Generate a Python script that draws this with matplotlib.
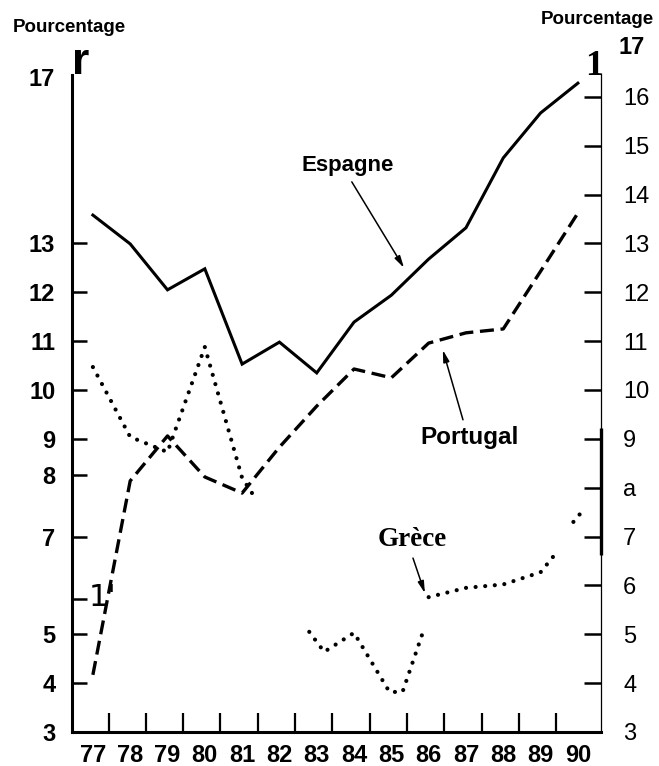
import numpy as np
import matplotlib
matplotlib.use("Agg")
import matplotlib.pyplot as plt

# --- data -------------------------------------------------------------------
years = [77, 78, 79, 80, 81, 82, 83, 84, 85, 86, 87, 88, 89, 90]
year_labels = [str(y) for y in years]

espagne = [13.58, 12.99, 12.05, 12.48, 10.53, 10.98, 10.35,
           11.39, 11.94, 12.68, 13.32, 14.75, 15.67, 16.28]
portugal = [4.17, 8.14, 9.06, 8.22, 7.89, 8.83, 9.67,
            10.43, 10.25, 10.96, 11.17, 11.25, 12.43, 13.62]

# Grèce is broken into pieces on the original (nan = gap)
grece_x = [77, 78, 79, 80, 81, 81.3, np.nan,
           82.8, 83.2, 84, 84.95, 85.3, 85.85, np.nan,
           86, 87, 88, 89, 89.35, np.nan,
           89.88, 90.12]
grece = [10.47, 9.04, 8.73, 10.88, 8.2, 7.85, np.nan,
         5.05, 4.64, 5.03, 3.82, 3.82, 5.05, np.nan,
         5.76, 5.95, 6.02, 6.27, 6.6, np.nan,
         7.3, 7.52]

left_ticks = [3, 4, 5, 5.72, 7, 8.27, 9, 10, 11, 12, 13]
left_labels = ["3", "4", "5", "", "7", "8", "9", "10", "11", "12", "13"]
right_ticks = [3, 4, 5, 6, 7, 8, 9, 10, 11, 12, 13, 14, 15, 16]
right_labels = ["3", "4", "5", "6", "7", "a", "9", "10", "11", "12", "13", "14", "15", "16"]

NARROW = ["Liberation Sans Narrow", "DejaVu Sans Condensed", "Liberation Sans"]

fig = plt.figure(figsize=(6.59, 7.66), dpi=100)
ax = fig.add_axes([72 / 659, 34 / 766, (601 - 72) / 659, 684 / 766])
ax2 = ax.twinx()

ax.set_xlim(76.44, 90.62)
ax.set_ylim(3, 17)
ax2.set_ylim(3, 17)

ax.plot(years, espagne, color="black", lw=2.2, solid_joinstyle="miter")
ax.plot(years, portugal, color="black", lw=2.4, linestyle=(0, (4.2, 2.0)))
ax.plot(grece_x, grece, color="black", lw=3.0, linestyle=(0, (0.01, 2.3)),
        dash_capstyle="round")

# spines
for s in ["top", "right"]:
    ax.spines[s].set_visible(False)
ax.spines["left"].set_linewidth(2.2)
ax.spines["left"].set_bounds(3, 16.45)
ax.spines["bottom"].set_linewidth(2.2)
for s in ["top", "left", "bottom"]:
    ax2.spines[s].set_visible(False)
ax2.spines["right"].set_linewidth(0.9)
ax2.spines["right"].set_bounds(3, 16.45)
ax2.plot([90.62, 90.62], [6.62, 9.22], color="black", lw=2.4,
         clip_on=False, solid_capstyle="butt")

# x ticks: labels on the years, marks slightly to the right
ax.set_xticks(years)
ax.set_xticklabels(year_labels, fontsize=17, fontweight="bold", family=NARROW)
ax.tick_params(axis="x", which="major", length=0, pad=9)
ax.set_xticks([y + 0.42 for y in years[:-1]], minor=True)
ax.tick_params(axis="x", which="minor", direction="in", length=14, width=1.6)

ax.set_yticks(left_ticks)
ax.set_yticklabels(left_labels, fontsize=17, fontweight="bold", family=NARROW)
ax.tick_params(axis="y", direction="in", length=11, width=1.8, pad=12)

ax2.set_yticks(right_ticks)
ax2.set_yticklabels(right_labels, fontsize=17, family=NARROW)
ax2.tick_params(axis="y", direction="in", length=12, width=1.8, pad=16)

# stray top labels and axis titles
fig.text(42 / 659, 1 - 80 / 766, "17", ha="center", va="center",
         fontsize=17, fontweight="bold", family=NARROW)
fig.text(632 / 659, 1 - 48 / 766, "17", ha="center", va="center",
         fontsize=17, fontweight="bold", family=NARROW)
fig.text(69 / 659, 1 - 27 / 766, "Pourcentage", ha="center", va="center",
         fontsize=13.5, fontweight="bold", family="Liberation Sans")
fig.text(597 / 659, 1 - 20 / 766, "Pourcentage", ha="center", va="center",
         fontsize=13.5, fontweight="bold", family="Liberation Sans")
fig.text(81 / 659, 1 - 74 / 766, "r", ha="center", va="baseline",
         fontsize=32, fontweight="bold", family="Liberation Sans")
fig.text(594 / 659, 1 - 75 / 766, "1", ha="center", va="baseline",
         fontsize=26, fontweight="bold", family="Liberation Serif")
fig.text(103 / 659, 1 - 597 / 766, "1'", ha="center", va="center",
         fontsize=22, family="Liberation Sans Narrow")

# series labels with arrows
arrow = dict(arrowstyle="-|>,head_length=0.7,head_width=0.18", color="black",
             lw=1.1, shrinkA=0, shrinkB=0)
ax.text(83.84, 14.6, "Espagne", ha="center", va="center", fontsize=16,
        fontweight="bold", family="Liberation Sans")
ax.annotate("", xy=(85.34, 12.5), xytext=(83.94, 14.26), arrowprops=arrow)
ax.text(87.11, 9.02, "Portugal", ha="center", va="center", fontsize=17.5,
        fontweight="bold", family="Liberation Sans")
ax.annotate("", xy=(86.38, 10.82), xytext=(86.92, 9.39), arrowprops=arrow)
ax.text(85.55, 6.93, "Grèce", ha="center", va="center", fontsize=19.5,
        fontweight="bold", family="Liberation Serif")
ax.annotate("", xy=(85.9, 5.84), xytext=(85.58, 6.56), arrowprops=arrow)

fig.savefig("out.png", dpi=100)
